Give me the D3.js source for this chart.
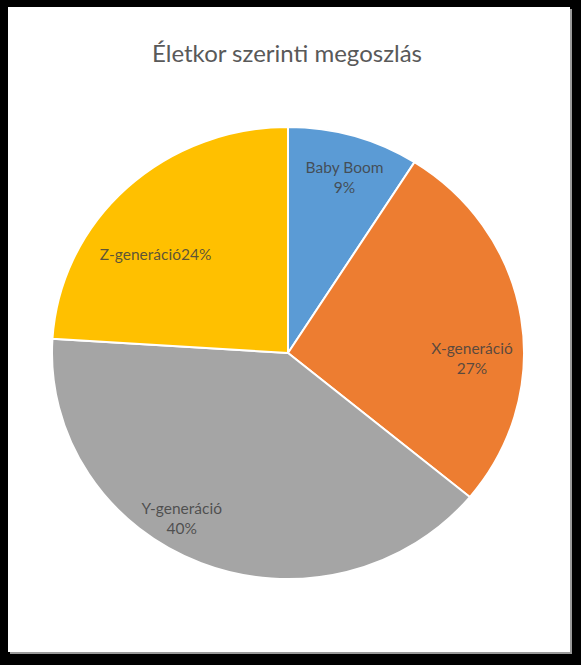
<!DOCTYPE html>
<html>
<head>
<meta charset="utf-8">
<script src="https://cdn.jsdelivr.net/npm/d3@7"></script>
<style>
  body { margin: 0; background: #000; }
  text { font-family: Lato, "Open Sans", sans-serif; }
</style>
</head>
<body>
<div id="chart"></div>
<script>
// chart data
var categories = ["Baby Boom", "X-generáció", "Y-generáció", "Z-generáció"];
var values = [9, 27, 40, 24];
var labelLines = [["Baby Boom", "9%"], ["X-generáció", "27%"], ["Y-generáció", "40%"], ["Z-generáció24%"]];
var colors = ["#5b9bd5", "#ed7d31", "#a5a5a5", "#ffc000"];

// label placement (Excel "best fit" look)
var labelShift = [1, 11, 10, -9];        // degrees added to mid angle
var labelRadius = [0.81, 0.78, 0.86, 0.71]; // fraction of radius

var svgWidth = 581;
var svgHeight = 665;
var cx = 288, cy = 353;
var radius = 226;
var sx = 236 / 226; // the picture is a bit stretched sideways

var svg = d3.select("#chart")
  .append("svg")
  .attr("width", svgWidth)
  .attr("height", svgHeight);

// card with a little shadow
svg.append("rect")
  .attr("x", 10).attr("y", 9)
  .attr("width", 562).attr("height", 645)
  .attr("fill", "#9a9a9a");
svg.append("rect")
  .attr("x", 8).attr("y", 7)
  .attr("width", 562).attr("height", 645)
  .attr("fill", "#fff");

svg.append("text")
  .attr("x", 287)
  .attr("y", 62)
  .attr("text-anchor", "middle")
  .attr("font-size", 24)
  .attr("fill", "#595959")
  .text("Életkor szerinti megoszlás");

var pie = d3.pie().sort(null).value(function(d){ return d; });
var arcs = pie(values);

var arc = d3.arc().innerRadius(0).outerRadius(radius);

var pieG = svg.append("g")
  .attr("transform", `translate(${cx},${cy}) scale(${sx},1)`);

pieG.selectAll("path")
  .data(arcs)
  .enter()
  .append("path")
  .attr("d", arc)
  .attr("fill", function(d, i){ return colors[i]; })
  .attr("stroke", "#fff")
  .attr("stroke-width", 2)
  .attr("vector-effect", "non-scaling-stroke");

var toRad = Math.PI / 180;
var labels = svg.selectAll(".lbl")
  .data(arcs)
  .enter()
  .append("text")
  .attr("class", "lbl")
  .attr("text-anchor", "middle")
  .attr("font-size", 15.5)
  .attr("fill", "#404040")
  .attr("fill-opacity", 0.85)
  .attr("transform", function(d, i){
    var a = (d.startAngle + d.endAngle) / 2 + labelShift[i] * toRad;
    var r = radius * labelRadius[i];
    var c = d3.arc().innerRadius(r).outerRadius(r).centroid({startAngle: a, endAngle: a});
    return `translate(${cx + c[0] * sx},${cy + c[1]})`;
  });

labels.each(function(d, i){
  var lines = labelLines[i];
  var t = d3.select(this);
  var startY = -(lines.length - 1) * 10 + 5;
  lines.forEach(function(s, k){
    t.append("tspan")
      .attr("x", 0)
      .attr("y", startY + k * 20)
      .text(s);
  });
});
</script>
</body>
</html>
